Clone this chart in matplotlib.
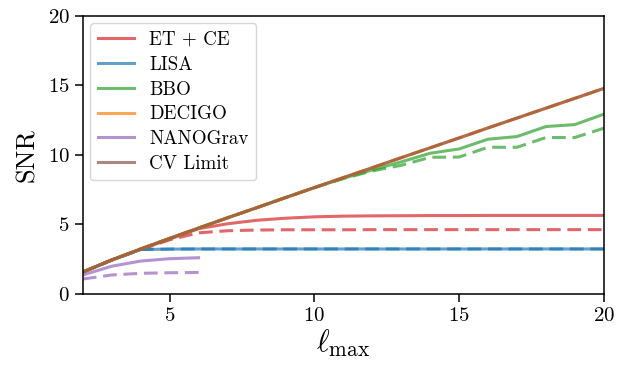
import numpy as np
import matplotlib
matplotlib.use("Agg")
import matplotlib.pyplot as plt

plt.rcParams["font.family"] = "serif"
plt.rcParams["font.serif"] = ["cmr10"]
plt.rcParams["mathtext.fontset"] = "cm"
plt.rcParams["axes.formatter.use_mathtext"] = True
plt.rcParams["axes.unicode_minus"] = False

ell = list(range(2, 21))

# values
cv_limit = [1.58, 2.45, 3.24, 4.00, 4.74, 5.48, 6.20, 6.93, 7.65, 8.37,
            9.08, 9.80, 10.51, 11.22, 11.94, 12.65, 13.36, 14.07, 14.78]
etce = [1.58, 2.45, 3.22, 3.95, 4.70, 5.05, 5.30, 5.45, 5.55, 5.60,
        5.62, 5.63, 5.64, 5.64, 5.65, 5.65, 5.65, 5.65, 5.65]
etce_d = [1.58, 2.44, 3.20, 3.90, 4.40, 4.55, 4.60, 4.62, 4.62, 4.62,
          4.63, 4.63, 4.63, 4.63, 4.63, 4.63, 4.63, 4.63, 4.63]
lisa = [1.58, 2.44, 3.20, 3.23, 3.24, 3.24, 3.24, 3.24, 3.24, 3.24,
        3.24, 3.24, 3.24, 3.24, 3.24, 3.24, 3.24, 3.24, 3.24]
lisa_d = lisa
bbo = [1.58, 2.45, 3.24, 4.00, 4.74, 5.48, 6.20, 6.93, 7.65, 8.32,
       8.92, 9.50, 10.12, 10.43, 11.13, 11.32, 12.04, 12.18, 12.93]
bbo_d = [1.58, 2.45, 3.24, 4.00, 4.74, 5.48, 6.20, 6.93, 7.65, 8.30,
         8.85, 9.25, 9.83, 9.85, 10.55, 10.55, 11.25, 11.25, 11.92]
decigo = cv_limit
decigo_d = cv_limit
ell_ng = [2, 3, 4, 5, 6]
nanograv = [1.37, 2.00, 2.37, 2.54, 2.61]
nanograv_d = [1.08, 1.37, 1.49, 1.53, 1.55]

fig = plt.figure(figsize=(6.18, 3.68), dpi=100)
ax = fig.add_axes([0.134, 0.201, 0.843, 0.756])

lw = 2.2
a = 0.7
dash = (0, (4.5, 2.2))
ax.plot(ell, etce, color="tab:red", lw=lw, alpha=a, label="ET + CE")
ax.plot(ell, etce_d, color="tab:red", lw=lw, alpha=a, ls=dash)
ax.plot(ell, lisa, color="tab:blue", lw=lw, alpha=a, label="LISA")
ax.plot(ell, lisa_d, color="tab:blue", lw=lw, alpha=a, ls=dash)
ax.plot(ell, bbo, color="tab:green", lw=lw, alpha=a, label="BBO")
ax.plot(ell, bbo_d, color="tab:green", lw=lw, alpha=a, ls=dash)
ax.plot(ell, decigo, color="tab:orange", lw=lw, alpha=a, label="DECIGO")
ax.plot(ell, decigo_d, color="tab:orange", lw=lw, alpha=a, ls=dash)
ax.plot(ell_ng, nanograv, color="tab:purple", lw=lw, alpha=a, label="NANOGrav")
ax.plot(ell_ng, nanograv_d, color="tab:purple", lw=lw, alpha=a, ls=dash)
ax.plot(ell, cv_limit, color="tab:brown", lw=lw, alpha=a, label="CV Limit")

ax.set_xlim(2, 20)
ax.set_ylim(0, 20)
ax.set_xticks([5, 10, 15, 20])
ax.set_yticks([0, 5, 10, 15, 20])
ax.tick_params(labelsize=15, direction="out", length=6, width=1.1)
for s in ax.spines.values():
    s.set_linewidth(1.1)
ax.set_xlabel(r"$\ell_{\rm max}$", fontsize=22, labelpad=2)
ax.set_ylabel("SNR", fontsize=19, labelpad=6)
ax.legend(loc="upper left", fontsize=13.7, handlelength=1.9, labelspacing=0.36,
          borderaxespad=0.4)

fig.savefig("out.png", dpi=100)
